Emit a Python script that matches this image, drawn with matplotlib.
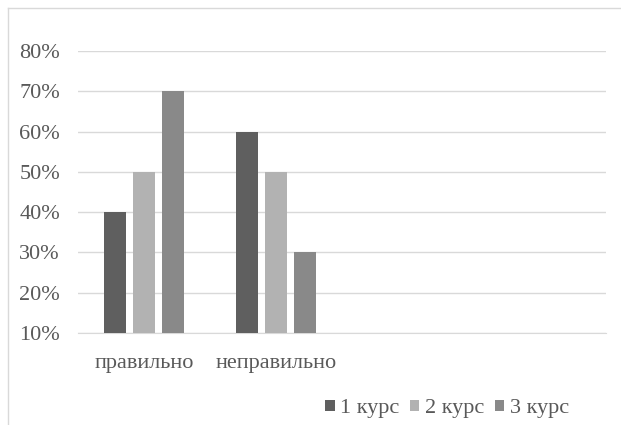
import matplotlib
matplotlib.use("Agg")
import matplotlib.pyplot as plt
import numpy as np
from matplotlib.ticker import FuncFormatter

categories = ["правильно", "неправильно", "", ""]
series_names = ["1 курс", "2 курс", "3 курс"]
course1 = [0.40, 0.60, None, None]
course2 = [0.50, 0.50, None, None]
course3 = [0.70, 0.30, None, None]
yticks = [0.1, 0.2, 0.3, 0.4, 0.5, 0.6, 0.7, 0.8]

colors = ["#5f5f5f", "#b2b2b2", "#898989"]
text_color = "#595959"

plt.rcParams['font.family'] = ['Liberation Serif', 'DejaVu Serif']

fig = plt.figure(figsize=(6.21, 4.25), dpi=100)
ax = fig.add_axes([78 / 621, 1 - 333 / 425, (606 - 78) / 621, (333 - 51) / 425])

x = np.arange(len(categories))
width = 0.167
offset = 0.22
base = 0.1
for i, (vals, c, name) in enumerate(zip([course1, course2, course3], colors, series_names)):
    xs = [xi + (i - 1) * offset for xi, v in zip(x, vals) if v is not None]
    hs = [v - base for v in vals if v is not None]
    ax.bar(xs, hs, width=width, bottom=base, color=c, label=name, zorder=3)

ax.set_xlim(-0.5, len(categories) - 0.5)
ax.set_ylim(0.1, 0.8)
ax.set_yticks(yticks)
ax.yaxis.set_major_formatter(FuncFormatter(lambda v, p: f"{round(v * 100)}%"))
ax.set_xticks(x)
ax.set_xticklabels(categories)
ax.grid(axis='y', color='#d9d9d9', linewidth=1, zorder=0)
for s in ["top", "right", "left"]:
    ax.spines[s].set_visible(False)
ax.spines["bottom"].set_color('#d9d9d9')
ax.tick_params(axis='both', length=0, colors=text_color, labelsize=16)
ax.tick_params(axis='y', pad=13)
ax.tick_params(axis='x', pad=15)

leg = fig.legend(loc='center', bbox_to_anchor=(447 / 621, 1 - 409 / 425), ncol=3, frameon=False,
                 fontsize=16, handlelength=0.42, handleheight=0.42, handletextpad=0.25,
                 columnspacing=0.48, labelcolor=text_color)

# chart border (top and left visible)
fig.add_artist(plt.Line2D([8 / 621, 1], [1 - 8 / 425, 1 - 8 / 425], color='#d9d9d9', linewidth=1))
fig.add_artist(plt.Line2D([8 / 621, 8 / 621], [0, 1 - 8 / 425], color='#d9d9d9', linewidth=1))

fig.savefig("out.png", dpi=100)
